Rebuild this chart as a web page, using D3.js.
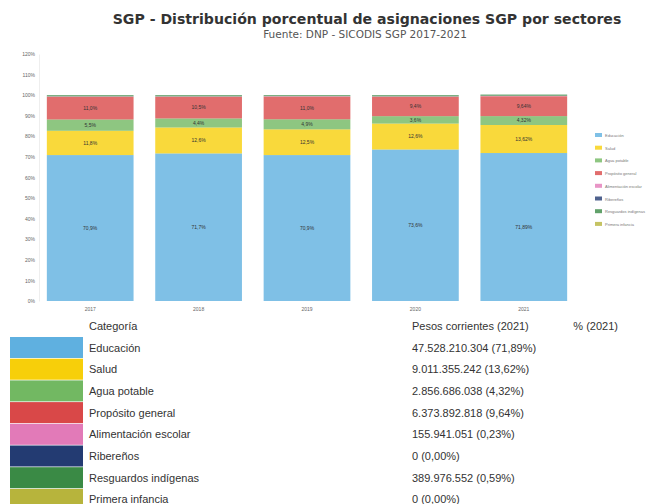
<!DOCTYPE html>
<html lang="es">
<head>
<meta charset="utf-8">
<script src="https://cdn.jsdelivr.net/npm/d3@7/dist/d3.min.js"></script>
<style>
  html, body { margin: 0; padding: 0; background: #ffffff; }
  svg { display: block; font-family: "Liberation Sans", Arial, sans-serif; }
</style>
</head>
<body>
<svg id="chart" width="663" height="504"></svg>
<script>
// Años y sectores
const years = ["2017", "2018", "2019", "2020", "2021"];
const categories = ["Educación", "Salud", "Agua potable", "Propósito general",
  "Alimentación escolar", "Ribereños", "Resguardos indígenas", "Primera infancia"];

// Participación porcentual por sector y año
const educacion           = [70.9, 71.7, 70.9, 73.6, 71.89];
const salud               = [11.8, 12.6, 12.5, 12.6, 13.62];
const aguaPotable         = [5.5, 4.4, 4.9, 3.6, 4.32];
const propositoGeneral    = [11.0, 10.5, 11.0, 9.4, 9.64];
const alimentacionEscolar = [0.2, 0.2, 0.2, 0.2, 0.23];
const riberenos           = [0.0, 0.0, 0.0, 0.0, 0.0];
const resguardos          = [0.6, 0.6, 0.5, 0.6, 0.59];
const primeraInfancia     = [0.0, 0.0, 0.0, 0.0, 0.0];

// Asignación 2021 en pesos corrientes
const pesos2021 = [47528210304, 9011355242, 2856686038, 6373892818, 155941051, 0, 389976552, 0];

// Marcas del eje vertical
const yTicks = [0, 10, 20, 30, 40, 50, 60, 70, 80, 90, 100, 110, 120];

const colors = ["#5fb0e0", "#f7cf0a", "#72b862", "#d94848", "#e27ab8", "#233b72", "#3a8a45", "#b7b43c"];

const series = [educacion, salud, aguaPotable, propositoGeneral,
  alimentacionEscolar, riberenos, resguardos, primeraInfancia];

const es = d3.formatLocale({ decimal: ",", thousands: ".", grouping: [3], currency: ["$", ""] });
const fmtPct1 = es.format(".1f");
const fmtPct2 = es.format(".2f");
const fmtPesos = es.format(",.0f");

const svg = d3.select("#chart");

// Título
svg.append("text").attr("x", 367).attr("y", 23.5).attr("text-anchor", "middle")
  .attr("font-family", "DejaVu Sans, sans-serif")
  .attr("font-size", 14.1).attr("font-weight", "bold").attr("fill", "#333")
  .text("SGP - Distribución porcentual de asignaciones SGP por sectores");
svg.append("text").attr("x", 365).attr("y", 38).attr("text-anchor", "middle")
  .attr("font-family", "DejaVu Sans, sans-serif")
  .attr("font-size", 10.5).attr("fill", "#555")
  .text("Fuente: DNP - SICODIS SGP 2017-2021");

// Escalas
const x = d3.scaleBand().domain(years).range([36, 578]).paddingInner(0.2).paddingOuter(0.1);
const y = d3.scaleLinear().domain([0, 120]).range([301, 54]);

// Eje Y
const yAxis = d3.axisLeft(y).tickValues(yTicks).tickFormat(d => d + "%").tickSize(0).tickPadding(4);
const gy = svg.append("g").attr("transform", "translate(39,0)").call(yAxis);
gy.select(".domain").attr("stroke", "#eee");
gy.selectAll("text").attr("font-size", 5).attr("fill", "#666").attr("font-family", "Liberation Sans, Arial, sans-serif");

// Eje X
const xAxis = d3.axisBottom(x).tickSize(0).tickPadding(5);
const gx = svg.append("g").attr("transform", "translate(0,302)").call(xAxis);
gx.select(".domain").remove();
gx.selectAll("text").attr("font-size", 5).attr("fill", "#666").attr("font-family", "Liberation Sans, Arial, sans-serif");

// Barras apiladas
const rows = years.map((yr, i) => {
  const r = { year: yr };
  categories.forEach((c, k) => { r[c] = series[k][i]; });
  return r;
});
const stack = d3.stack().keys(categories)(rows);

const layers = svg.append("g").selectAll("g").data(stack).join("g")
  .attr("fill", (d, k) => colors[k]).attr("fill-opacity", 0.8);

layers.selectAll("rect").data(d => d).join("rect")
  .attr("x", d => x(d.data.year))
  .attr("width", x.bandwidth())
  .attr("y", d => y(d[1]))
  .attr("height", d => y(d[0]) - y(d[1]));

// Etiquetas de porcentaje dentro de las barras
layers.each(function (layer) {
  d3.select(this).selectAll("text").data(layer.filter(d => d[1] - d[0] >= 2)).join("text")
    .attr("x", d => x(d.data.year) + x.bandwidth() / 2)
    .attr("y", d => y((d[0] + d[1]) / 2) + 1.8)
    .attr("text-anchor", "middle").attr("font-size", 5).attr("fill", "#333").attr("fill-opacity", 1)
    .text(d => {
      const v = d[1] - d[0];
      return (d.data.year === "2021" ? fmtPct2(v) : fmtPct1(v)) + "%";
    });
});

// Leyenda lateral
const legend = svg.append("g").attr("transform", "translate(595,133)");
categories.forEach((c, k) => {
  const g = legend.append("g").attr("transform", `translate(0,${k * 12.7})`);
  g.append("rect").attr("width", 7).attr("height", 4).attr("fill", colors[k]).attr("fill-opacity", 0.8);
  g.append("text").attr("x", 10).attr("y", 4).attr("font-size", 4).attr("fill", "#777").text(c);
});

// Tabla resumen 2021
const last = years.length - 1;
const table = svg.append("g");
table.append("text").attr("x", 89).attr("y", 330).attr("font-size", 11).attr("fill", "#333").text("Categoría");
table.append("text").attr("x", 412).attr("y", 330).attr("font-size", 11).attr("fill", "#333")
  .text("Pesos corrientes (2021)");
table.append("text").attr("x", 618).attr("y", 330).attr("text-anchor", "end").attr("font-size", 11).attr("fill", "#333")
  .text("% (2021)");
categories.forEach((c, k) => {
  const top = 337 + k * 21.7;
  table.append("rect").attr("x", 10).attr("y", top).attr("width", 73).attr("height", 21)
    .attr("fill", colors[k]);
  table.append("text").attr("x", 89).attr("y", top + 14.5).attr("font-size", 11).attr("fill", "#333").text(c);
  table.append("text").attr("x", 412).attr("y", top + 14.5).attr("font-size", 11).attr("fill", "#333")
    .text(`${fmtPesos(pesos2021[k])} (${fmtPct2(series[k][last])}%)`);
});
</script>
</body>
</html>
